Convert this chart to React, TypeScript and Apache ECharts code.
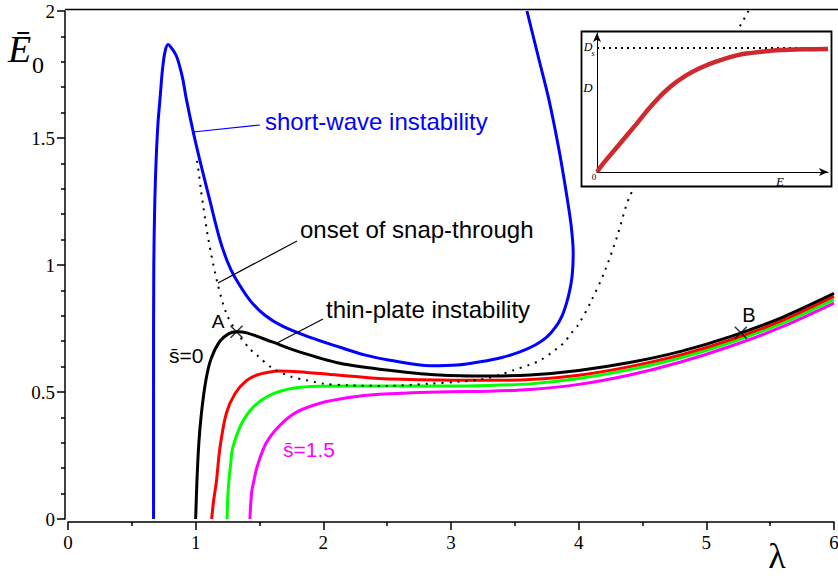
import React, { useEffect, useRef } from 'react';
import * as echarts from 'echarts';

// ---- main chart data: [lambda, E0] ----
const shortWave: [number, number][] = [
  [0.67, 0], [0.67, 0.5], [0.672, 1.0], [0.68, 1.25], [0.69, 1.41], [0.705, 1.56], [0.72, 1.65],
  [0.74, 1.77], [0.76, 1.84], [0.784, 1.868], [0.82, 1.848], [0.85, 1.822], [0.875, 1.782], [0.9, 1.73],
  [0.928, 1.651], [0.98, 1.526], [1.032, 1.414], [1.11, 1.256], [1.19, 1.099], [1.25, 1.012],
  [1.306, 0.953], [1.424, 0.862], [1.54, 0.803], [1.68, 0.759], [1.89, 0.716], [2.13, 0.676],
  [2.33, 0.645], [2.52, 0.625], [2.84, 0.603], [3.05, 0.606], [3.23, 0.619], [3.4, 0.636], [3.54, 0.658],
  [3.66, 0.685], [3.75, 0.716], [3.82, 0.756], [3.87, 0.8], [3.905, 0.85], [3.93, 0.9], [3.947, 0.95],
  [3.955, 1.0], [3.957, 1.05], [3.952, 1.1], [3.94, 1.16], [3.924, 1.217], [3.893, 1.316], [3.846, 1.454],
  [3.767, 1.651], [3.689, 1.809], [3.595, 2.0],
];
const sBar0: [number, number][] = [
  [1.0, 0], [1.01, 0.15], [1.025, 0.3], [1.045, 0.416], [1.08, 0.546], [1.12, 0.63], [1.19, 0.7],
  [1.26, 0.73], [1.32, 0.737], [1.4, 0.733], [1.6, 0.697], [1.8, 0.66], [2.13, 0.613], [2.44, 0.59],
  [2.91, 0.567], [3.3, 0.563], [3.62, 0.567], [4.0, 0.585], [4.4, 0.616], [4.8, 0.66], [5.2, 0.72],
  [5.6, 0.795], [6.0, 0.888],
];
const sBar05: [number, number][] = [
  [1.125, 0], [1.14, 0.07], [1.163, 0.15], [1.19, 0.28], [1.24, 0.416], [1.31, 0.495], [1.4, 0.546],
  [1.48, 0.567], [1.57, 0.578], [1.66, 0.583], [1.8, 0.58], [2.13, 0.566], [2.44, 0.553], [2.91, 0.547],
  [3.3, 0.546], [3.62, 0.549], [4.0, 0.566], [4.4, 0.6], [4.8, 0.646], [5.2, 0.707], [5.6, 0.783],
  [6.0, 0.876],
];
const sBar1: [number, number][] = [
  [1.246, 0], [1.25, 0.07], [1.26, 0.15], [1.275, 0.22], [1.29, 0.28], [1.36, 0.376], [1.45, 0.44],
  [1.58, 0.487], [1.76, 0.515], [1.97, 0.523], [2.44, 0.524], [2.91, 0.524], [3.3, 0.526], [3.62, 0.532],
  [4.0, 0.553], [4.4, 0.588], [4.8, 0.635], [5.2, 0.697], [5.6, 0.772], [6.0, 0.864],
];
const sBar15: [number, number][] = [
  [1.425, 0], [1.43, 0.05], [1.44, 0.11], [1.46, 0.16], [1.48, 0.204], [1.55, 0.297], [1.66, 0.369],
  [1.79, 0.421], [1.97, 0.455], [2.2, 0.478], [2.44, 0.491], [2.91, 0.5], [3.3, 0.503], [3.62, 0.51],
  [4.0, 0.53], [4.4, 0.567], [4.8, 0.618], [5.2, 0.682], [5.6, 0.758], [6.0, 0.85],
];
const snapThrough: [number, number][] = [
  [1.01, 1.41], [1.018, 1.388], [1.04, 1.3], [1.06, 1.23], [1.1, 1.1], [1.17, 0.93], [1.24, 0.81],
  [1.32, 0.737], [1.42, 0.672], [1.48, 0.645], [1.6, 0.594], [1.75, 0.56], [1.87, 0.546], [2.0, 0.533],
  [2.2, 0.526], [2.5, 0.524], [2.83, 0.533], [3.05, 0.54], [3.23, 0.549], [3.4, 0.57], [3.49, 0.586],
  [3.62, 0.608], [3.7, 0.625], [3.78, 0.652], [3.83, 0.671], [3.89, 0.697], [3.94, 0.73], [4.0, 0.767],
  [4.1, 0.86], [4.2, 0.97], [4.3, 1.11], [4.4, 1.27], [4.6, 1.45], [4.9, 1.66], [5.15, 1.84],
  [5.28, 1.955], [5.33, 2.0],
];
const crossPoints: [number, number][] = [[1.32, 0.737], [5.27, 0.733]];

// ---- inset data: normalised E vs D ----
const insetE = [0, 0.03, 0.1, 0.172, 0.243, 0.316, 0.388, 0.459, 0.532, 0.605, 0.68, 0.749, 0.82, 0.892, 1.0];
const insetD = [0, 0.075, 0.23, 0.39, 0.55, 0.685, 0.78, 0.848, 0.9, 0.94, 0.962, 0.976, 0.984, 0.989, 0.992];
const insetDs = 1.0;

const SERIF = 'Liberation Serif';
const SANS = 'Liberation Sans';

const txt = (x: number, y: number, text: string, o: any = {}) => ({
  type: 'text', x, y, z: o.z ?? 50,
  style: {
    text, fill: o.fill ?? '#000', fontSize: o.size ?? 24, fontFamily: o.family ?? SANS,
    fontStyle: o.italic ? 'italic' : 'normal', align: o.align ?? 'left', verticalAlign: 'middle',
  },
});
const seg = (x1: number, y1: number, x2: number, y2: number, o: any = {}) => ({
  type: 'line', z: o.z ?? 50,
  shape: { x1, y1, x2, y2 },
  style: { stroke: o.stroke ?? '#000', lineWidth: o.w ?? 1.2 },
});

export default function App() {
  const ref = useRef<HTMLDivElement>(null);
  useEffect(() => {
    const chart = echarts.init(ref.current!, null, { renderer: 'svg' });
    const axisBlack = { color: '#000', width: 1.5 };
    const curve = (name: string, data: [number, number][], color: string, z = 2) => ({
      name, type: 'line', data, xAxisIndex: 0, yAxisIndex: 0, showSymbol: false, symbol: 'none',
      smooth: 0.3, z, lineStyle: { color, width: 3 },
    });
    const option: any = {
      animation: false,
      backgroundColor: '#fff',
      grid: [
        { left: 68, right: 4, top: 11, bottom: 60, outerBoundsMode: 'none', containLabel: false },
        { left: 597, top: 33, width: 231, height: 139, outerBoundsMode: 'none', containLabel: false },
      ],
      xAxis: [
        {
          type: 'value', min: 0, max: 6, interval: 1, offset: 3,
          axisLine: { show: true, onZero: false, lineStyle: axisBlack },
          axisTick: { show: true, length: 8, lineStyle: axisBlack },
          minorTick: { show: true, splitNumber: 2, length: 4, lineStyle: axisBlack },
          axisLabel: { color: '#000', fontFamily: SERIF, fontSize: 19, margin: 11, showMaxLabel: true },
          splitLine: { show: false },
        },
        {
          gridIndex: 1, type: 'value', min: 0, max: 1, z: 110,
          axisLine: { show: true, onZero: false, symbol: ['none', 'arrow'], symbolSize: [6, 9], lineStyle: { color: '#000', width: 1 } },
          axisTick: { show: false }, axisLabel: { show: false }, splitLine: { show: false },
        },
      ],
      yAxis: [
        {
          type: 'value', min: 0, max: 2, interval: 0.5, offset: 3,
          axisLine: { show: true, onZero: false, lineStyle: axisBlack },
          axisTick: { show: true, length: 8, lineStyle: axisBlack },
          minorTick: { show: true, splitNumber: 5, length: 4, lineStyle: axisBlack },
          axisLabel: { color: '#000', fontFamily: SERIF, fontSize: 19, margin: 10 },
          splitLine: { show: false },
        },
        {
          gridIndex: 1, type: 'value', min: 0, max: 1.12, z: 110,
          axisLine: { show: true, onZero: false, symbol: ['none', 'arrow'], symbolSize: [6, 9], lineStyle: { color: '#000', width: 1 } },
          axisTick: { show: false }, axisLabel: { show: false }, splitLine: { show: false },
        },
      ],
      series: [
        curve('short-wave instability', shortWave, '#0000ff'),
        curve('s=0', sBar0, '#000000', 6),
        curve('s=0.5', sBar05, '#ff0000', 5),
        curve('s=1', sBar1, '#00ff00', 4),
        curve('s=1.5', sBar15, '#ff00ff', 3),
        {
          name: 'onset of snap-through', type: 'line', data: snapThrough, showSymbol: false, symbol: 'none',
          smooth: 0.3, z: 7, lineStyle: { color: '#000', width: 2, type: [2, 6] },
        },
        {
          name: 'points', type: 'scatter', data: crossPoints, z: 8,
          symbol: 'path://M0 0L10 10M10 0L0 10', symbolSize: 12,
          itemStyle: { color: 'transparent', borderColor: '#000', borderWidth: 1.5 },
        },
        {
          name: 'Ds', type: 'line', xAxisIndex: 1, yAxisIndex: 1, z: 112, showSymbol: false, symbol: 'none',
          data: [[0, insetDs], [1, insetDs]], lineStyle: { color: '#000', width: 2, type: [2, 4] },
        },
        {
          name: 'D(E)', type: 'line', xAxisIndex: 1, yAxisIndex: 1, z: 113, showSymbol: false, symbol: 'none',
          smooth: 0.5, data: insetE.map((e, i) => [e, insetD[i]]), lineStyle: { color: '#cc2a2e', width: 4.5 },
        },
      ],
      graphic: [
        seg(65, 9.5, 838, 9.5, { w: 1.5 }),
        { type: 'rect', z: 100, shape: { x: 581.5, y: 31.5, width: 250, height: 155 }, style: { fill: '#fff', stroke: '#000', lineWidth: 1.8 } },
        // axis titles
        txt(8, 49, '\u0112', { family: SERIF, size: 38, italic: true }),
        txt(32, 65, '0', { family: SERIF, size: 24 }),
        txt(777, 556, '\u03bb', { family: SERIF, size: 36, align: 'center' }),
        // annotations
        seg(193, 132, 260, 125, { stroke: '#0000ff' }),
        txt(265, 121, 'short-wave instability', { fill: '#0000ff' }),
        seg(218, 283, 297, 241),
        txt(300, 229, 'onset of snap-through'),
        seg(277, 343, 323, 319),
        txt(326, 309, 'thin-plate instability'),
        txt(218, 321, 'A', { size: 19, align: 'center' }),
        txt(749, 315, 'B', { size: 20, align: 'center' }),
        txt(169, 355, 's\u0304=0', { size: 21 }),
        txt(283, 449, 's\u0304=1.5', { size: 21, fill: '#ff00ff' }),
        // inset labels
        txt(588, 47, 'D', { family: SERIF, size: 12, italic: true, align: 'center', z: 120 }),
        txt(593, 53, 's', { family: SERIF, size: 8, italic: true, align: 'center', z: 120 }),
        txt(588, 87, 'D', { family: SERIF, size: 13, italic: true, align: 'center', z: 120 }),
        txt(594, 177, '0', { family: SERIF, size: 9, align: 'center', z: 120 }),
        txt(780, 181, 'E', { family: SERIF, size: 13, italic: true, align: 'center', z: 120 }),
      ],
    };
    chart.setOption(option);
    return () => chart.dispose();
  }, []);
  return (
    <div
      ref={ref}
      style={{ position: 'fixed', left: 0, top: 0, width: 838, height: 579, background: '#fff' }}
    />
  );
}
